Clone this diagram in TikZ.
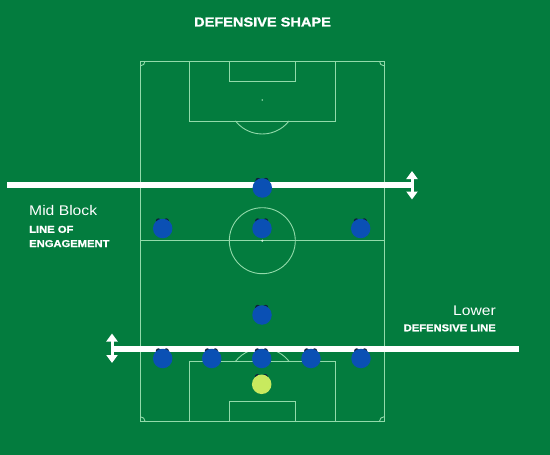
\documentclass[tikz,border=0pt]{standalone}
\usepackage{fontspec}
\setmainfont{Liberation Sans}
\newfontfamily\wideB[FakeStretch=1.12,FakeBold=1.2]{Liberation Sans Bold}
\newfontfamily\wideR[FakeStretch=1.12]{Liberation Sans}
\usetikzlibrary{arrows.meta}
\definecolor{bg}{HTML}{037C3E}
\definecolor{pitchline}{HTML}{92DAAA}
\definecolor{playerblue}{HTML}{0A50B4}
\definecolor{keeper}{HTML}{C8EA5E}
\definecolor{ear}{HTML}{0E1E38}
\tikzset{
  pl/.style={draw=pitchline, line width=0.9pt},
  whiteline/.style={draw=white, line width=6pt},
  dblarrow/.style={draw=white, line width=3pt, {Triangle[width=11pt,length=8pt]}-{Triangle[width=11pt,length=8pt]}},
  player/.style={circle, fill=playerblue, minimum size=19.5pt, inner sep=0pt},
  gkplayer/.style={circle, fill=keeper, minimum size=19.5pt, inner sep=0pt},
  titletxt/.style={text=white, font=\wideB\fontsize{13}{15}\selectfont, inner sep=0pt},
  labR/.style={text=white, font=\wideR\fontsize{14}{16}\selectfont, inner sep=0pt},
  labB/.style={text=white, font=\wideB\fontsize{10}{12}\selectfont, inner sep=0pt}
}
\begin{document}
\begin{tikzpicture}[x=1pt,y=-1pt]
\fill[bg] (0,0) rectangle (550,455);
\useasboundingbox (0,0) rectangle (550,455);
% pitch
\draw[pl] (140.5,61.3) rectangle (384,421.3);
\draw[pl] (140.5,240.7) -- (384,240.7);
\draw[pl] (262.3,240.7) circle (33);
\fill[pitchline!40!white] (262.3,240.7) circle (1.2);
% top end
\draw[pl] (189.3,61.3) rectangle (335.3,121);
\draw[pl] (229,61.3) rectangle (295.7,81.3);
\fill[pitchline] (262.3,100) circle (0.9);
\draw[pl] (262.3,100) ++(38:34) arc[start angle=38,end angle=142,radius=34];
% bottom end
\draw[pl] (189.3,361.6) rectangle (335.3,421.3);
\draw[pl] (229,401.3) rectangle (295.7,421.3);
\fill[pitchline] (262.3,382.3) circle (0.9);
\draw[pl] (262.3,382.3) ++(218:34) arc[start angle=218,end angle=322,radius=34];
% corner arcs
\draw[pl] (145,61.3) arc[start angle=0,end angle=90,radius=4.5];
\draw[pl] (384,65.8) arc[start angle=90,end angle=180,radius=4.5];
\draw[pl] (140.5,416.8) arc[start angle=270,end angle=360,radius=4.5];
\draw[pl] (379.5,421.3) arc[start angle=180,end angle=270,radius=4.5];
% lines of engagement / defence
\coordinate (topL) at (7,185);
\coordinate (topR) at (412,185);
\coordinate (topArrA) at (412,171);
\coordinate (topArrB) at (412,199.5);
\coordinate (lowL) at (112,349);
\coordinate (lowR) at (519,349);
\coordinate (lowArrA) at (112,333.5);
\coordinate (lowArrB) at (112,363);
\draw[whiteline] (topL) -- (topR);
\draw[dblarrow] (topArrA) -- (topArrB);
\draw[whiteline] (lowL) -- (lowR);
\draw[dblarrow] (lowArrA) -- (lowArrB);
% player positions
\coordinate (c-t1) at (262.3,188);
\coordinate (c-m1) at (162.7,228.5);
\coordinate (c-m2) at (262,228.5);
\coordinate (c-m3) at (360.7,228.5);
\coordinate (c-d0) at (262,315);
\coordinate (c-b1) at (162.7,358.5);
\coordinate (c-b2) at (211.7,358.5);
\coordinate (c-b3) at (261.7,358.5);
\coordinate (c-b4) at (311,358.5);
\coordinate (c-b5) at (361,358.5);
\coordinate (c-gk) at (261.7,384.3);
% ears behind players
\foreach \p in {t1,m1,m2,m3,d0,b1,b2,b3,b4,b5,gk}{
  \fill[ear] (c-\p) ++(-4.3,-7.6) circle (2.6);
  \fill[ear] (c-\p) ++(3.6,-7.6) circle (2.6);
}
\foreach \p in {t1,m1,m2,m3,d0,b1,b2,b3,b4,b5}{
  \node[player] (p-\p) at (c-\p) {};
}
\node[gkplayer] (p-gk) at (c-gk) {};
% texts
\node[titletxt, anchor=base] (title) at (262.5,26.5) {DEFENSIVE SHAPE};
\node[labR, anchor=base west] (midblock) at (29,215) {Mid Block};
\node[labB, anchor=base west] (lineof) at (29,232.8) {LINE OF};
\node[labB, anchor=base west] (engagement) at (29,247) {ENGAGEMENT};
\node[labR, anchor=base east] (lower) at (496,315.3) {Lower};
\node[labB, anchor=base east] (defline) at (496,331.3) {DEFENSIVE LINE};
\end{tikzpicture}
\end{document}
